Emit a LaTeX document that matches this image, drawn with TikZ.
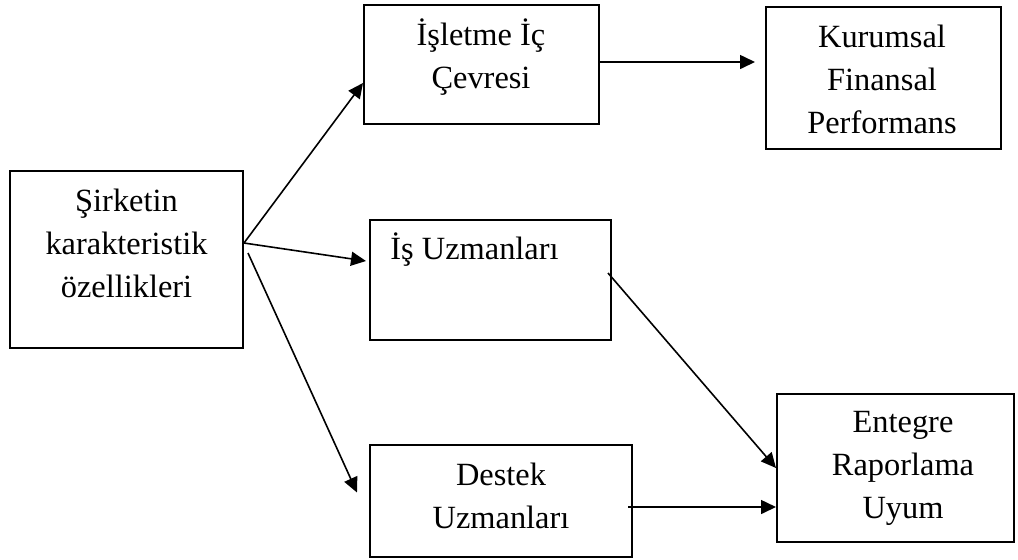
\documentclass[tikz,border=0pt]{standalone}
\usepackage{fontspec}
\setmainfont{Liberation Serif}
\usetikzlibrary{positioning,arrows.meta}

\begin{document}
\begin{tikzpicture}[x=0.5pt,y=-0.5pt,
    kutu/.style={draw, line width=1pt, inner sep=0pt},
    yazi/.style={inner sep=0pt, align=center, font=\fontsize{16.2}{21.5}\selectfont},
    ok/.style={-{Triangle[length=7.5pt,width=7pt]}, line width=0.8pt}]
  \useasboundingbox (0,0) rectangle (1018,559);
  % kutular
  \node[kutu, minimum width=116.5pt, minimum height=88.5pt] (sirket) at (126.5,259.5) {};
  \node[kutu, minimum width=117.5pt, minimum height=59.5pt] (isletme) at (481.5,64.5) {};
  \node[kutu, minimum width=117.5pt, minimum height=71pt] (kurumsal) at (883.5,78) {};
  \node[kutu, minimum width=120.5pt, minimum height=60pt] (is) at (490.5,280) {};
  \node[kutu, minimum width=118.5pt, minimum height=74pt] (entegre) at (895.5,468) {};
  \node[kutu, minimum width=131pt, minimum height=56pt] (destek) at (501,501) {};
  % yazilar
  \node[yazi] (sirket-y) at (126.5,243) {Şirketin\\karakteristik\\özellikleri};
  \node[yazi] (isletme-y) at (481,57) {İşletme İç\\Çevresi};
  \node[yazi] (kurumsal-y) at (882,79) {Kurumsal\\Finansal\\Performans};
  \node[yazi, anchor=base west] (is-y) at (390,259.5) {İş Uzmanları};
  \node[yazi] (entegre-y) at (903,468) {Entegre\\Raporlama\\Uyum};
  \node[yazi] (destek-y) at (501,496) {Destek\\Uzmanları};
  % oklar
  \draw[ok] ([yshift=8.25pt]sirket.east) -- ([yshift=-9.25pt]isletme.west);
  \draw[ok] ([yshift=8.25pt]sirket.east) -- ([xshift=-1.5pt,yshift=9.5pt]is.west);
  \draw[ok] ([xshift=2pt,yshift=3.25pt]sirket.east) -- ([xshift=-6pt,yshift=4.25pt]destek.west);
  \draw[ok] ([yshift=1.25pt]isletme.east) -- ([xshift=-5pt,yshift=8pt]kurumsal.west);
  \draw[ok] ([xshift=-2pt,yshift=3.5pt]is.east) -- (entegre.west);
  \draw[ok] ([xshift=-2.5pt,yshift=-3pt]destek.east) -- ([yshift=-19.5pt]entegre.west);
\end{tikzpicture}
\end{document}
